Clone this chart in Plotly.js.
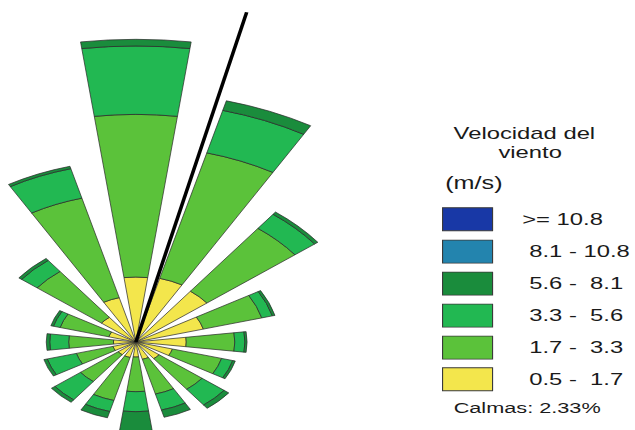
<!DOCTYPE html>
<html><head><meta charset="utf-8">
<script src="https://cdn.plot.ly/plotly-3.0.1.min.js"></script>
<style>
html,body{margin:0;padding:0;overflow:hidden;background:#fff;width:635px;height:430px}
#wrap{position:absolute;left:0;top:0;width:453.57px;height:430px;overflow:hidden;transform:scaleX(1.4);transform-origin:0 0}
#chart{position:absolute}
</style></head><body>
<div id="wrap"><div id="chart"></div></div>
<script>
// ---- data (frequencies in %) ----
const directions = ['N','NNE','NE','ENE','E','ESE','SE','SSE','S','SSW','SW','WSW','W','WNW','NW','NNW'];
const directionDeg = [0,22.5,45,67.5,90,112.5,135,157.5,180,202.5,225,247.5,270,292.5,315,337.5];
const speedBins = ['0.5 -\u00a0 1.7','1.7 -\u00a0 3.3','3.3 -\u00a0 5.6','5.6 -\u00a0 8.1','8.1 - 10.8','>= 10.8'];
const binColors = ['#F3E64C','#5BC23A','#22B852','#1A8C3C','#2384AE','#1838A6'];
const freq_05_17  = [3.41,3.46,3.36,2.62,1.89,1.42,1.10,0.94,0.79,0.84,0.84,0.89,0.84,1.05,1.63,2.41];
const freq_17_33  = [8.54,6.82,4.16,2.27,1.82,1.91,2.03,1.89,1.82,2.34,1.78,1.42,1.68,1.89,3.04,5.41];
const freq_33_56  = [3.59,2.31,0.93,0.41,0.38,0.43,1.04,0.87,1.05,0.60,1.21,1.13,0.71,0.26,0.73,1.60];
const freq_56_81  = [0.35,0.52,0.15,0.10,0.08,0.10,0.22,0.39,1.07,0.34,0.16,0.13,0.13,0.10,0.13,0.13];
const freq_81_108 = [0,0,0,0,0,0,0,0,0,0,0,0,0,0,0,0];
const freq_108    = [0,0,0,0,0,0,0,0,0,0,0,0,0,0,0,0];
const calmText = 'Calmas: 2.33%';
const resultantDir = 13.5;   // degrees
const resultantLen = 17.8;   // %

// ---- geometry (layout only) ----
const K = 1.4;            // horizontal stretch of the figure
const CX = 136 / K, CY = 342;
const PX_PER_PCT = 19.05;
const RMAX = 18.48;
const R = RMAX * PX_PER_PCT;
const LEFT = CX - R, TOP = CY - R;
const W = Math.ceil(453.57 - LEFT) + 2, H = Math.round(2 * R);
const chart = document.getElementById('chart');
chart.style.left = LEFT + 'px';
chart.style.top = TOP + 'px';
const px = xu => (xu - LEFT) / W;
const py = y => 1 - (y - TOP) / H;

const series = [freq_05_17, freq_17_33, freq_33_56, freq_56_81, freq_81_108, freq_108];
const traces = [];
series.forEach((vals, i) => {
  if (vals.every(v => v === 0)) return;
  traces.push({
    type: 'barpolar', r: vals, theta: directionDeg, width: 15,
    name: speedBins[i],
    marker: {color: binColors[i], line: {color: '#2a2a2a', width: 0.6}},
    hoverinfo: 'skip'
  });
});
traces.push({
  type: 'scatterpolar', mode: 'lines', r: [0, resultantLen], theta: [resultantDir, resultantDir],
  line: {color: '#000', width: 2.6}, hoverinfo: 'skip'
});

// legend drawn as shapes + annotations
const FONT = 'Liberation Sans, Arial, sans-serif';
const boxX0 = 442.7 / K, boxX1 = 492.7 / K;
const boxTop = [207.7, 240, 272, 304, 336, 367.7]; // top to bottom (>=10.8 first)
const boxH = 23;
const shapes = [], annotations = [];
for (let j = 0; j < 6; j++) {
  const bin = 5 - j;
  const y0 = boxTop[j], y1 = boxTop[j] + boxH;
  shapes.push({type: 'rect', xref: 'paper', yref: 'paper', x0: px(boxX0), x1: px(boxX1), y0: py(y1), y1: py(y0),
    fillcolor: binColors[bin], line: {color: '#3a3a3a', width: 0.8}});
  annotations.push({xref: 'paper', yref: 'paper', x: px((j === 0 ? 519 : 527) / K), y: py((y0 + y1) / 2),
    xanchor: 'left', yanchor: 'middle', showarrow: false, text: speedBins[bin],
    font: {family: FONT, size: 17, color: '#1a1a1a'}});
}
annotations.push({xref:'paper', yref:'paper', x: px(524/K), y: py(133), xanchor:'center', yanchor:'middle', showarrow:false,
  text:'Velocidad del', font:{family:FONT, size:17, color:'#1a1a1a'}});
annotations.push({xref:'paper', yref:'paper', x: px(530/K), y: py(152), xanchor:'center', yanchor:'middle', showarrow:false,
  text:'viento', font:{family:FONT, size:17, color:'#1a1a1a'}});
annotations.push({xref:'paper', yref:'paper', x: px(442/K), y: py(183), xanchor:'left', yanchor:'middle', showarrow:false,
  text:'(m/s)', font:{family:FONT, size:18, color:'#1a1a1a'}});
annotations.push({xref:'paper', yref:'paper', x: px(451/K), y: py(407), xanchor:'left', yanchor:'middle', showarrow:false,
  text: calmText, font:{family:FONT, size:15.5, color:'#1a1a1a'}});

const layout = {
  width: W, height: H, margin: {l:0, r:0, t:0, b:0},
  paper_bgcolor: 'rgba(0,0,0,0)', showlegend: false,
  polar: {
    domain: {x: [0, 2 * R / W], y: [0, 1]},
    bgcolor: 'rgba(0,0,0,0)', barmode: 'stack',
    radialaxis: {range: [0, RMAX], visible: false, showgrid: false},
    angularaxis: {rotation: 90, direction: 'clockwise', visible: false, showgrid: false}
  },
  shapes: shapes, annotations: annotations
};
Plotly.newPlot(chart, traces, layout, {staticPlot: true, displayModeBar: false});
</script>
</body></html>
